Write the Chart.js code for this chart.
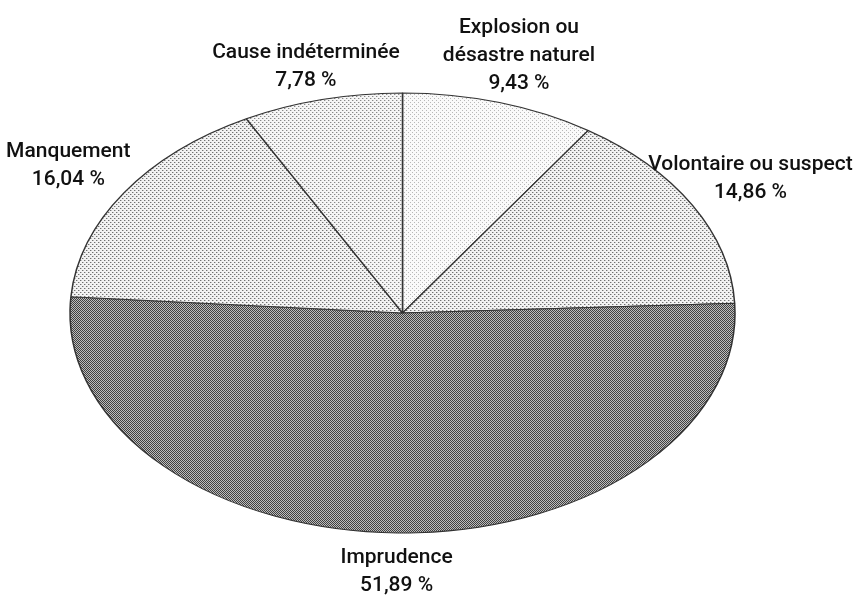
<!DOCTYPE html>
<html>
<head>
<meta charset="utf-8">
<script src="https://cdn.jsdelivr.net/npm/chart.js@4.4.1/dist/chart.umd.min.js"></script>
<style>
  body { margin: 0; background: #fff; }
  canvas { display: block; }
</style>
</head>
<body>
<canvas id="myChart" width="867" height="603"></canvas>
<script>
// slices, clockwise from 12 o'clock
const categories = [['Explosion ou', 'désastre naturel'], ['Volontaire ou suspect'], ['Imprudence'], ['Manquement'], ['Cause indéterminée']];
const values = [9.43, 14.86, 51.89, 16.04, 7.78];
const percentLabels = values.map(v => v.toFixed(2).replace('.', ',') + ' %');

const labelSpreadX = 1.2;
const labelSpreadY = 1.065;
const lineHeight = 28;

// small stipple tiles to imitate the printed screens
const makePattern = function(size, background, dots) {
    const tile = document.createElement('canvas');
    tile.width = size;
    tile.height = size;
    const t = tile.getContext('2d');
    t.fillStyle = background;
    t.fillRect(0, 0, size, size);
    dots.forEach(d => {
        t.fillStyle = d[2];
        t.fillRect(d[0], d[1], 1, 1);
    });
    return t.createPattern(tile, 'repeat');
};

const patterns = [
    makePattern(4, '#fafafa', [[0, 0, '#b8b8b8'], [2, 2, '#b8b8b8']]),
    makePattern(4, '#f2f2f2', [[0, 0, '#707070'], [2, 2, '#707070'], [1, 0, '#c0c0c0'], [3, 2, '#c0c0c0']]),
    makePattern(2, '#bcbcbc', [[0, 0, '#404040'], [1, 1, '#404040']]),
    makePattern(4, '#f2f2f2', [[0, 0, '#707070'], [2, 2, '#707070'], [1, 0, '#c0c0c0'], [3, 2, '#c0c0c0']]),
    makePattern(4, '#f6f6f6', [[0, 0, '#888888'], [2, 2, '#888888'], [1, 0, '#d0d0d0'], [3, 2, '#d0d0d0']])
];

// stretch the round pie into the ellipse filling the chart area, then write the labels
const ellipsePlugin = {
    id: 'ellipse',
    beforeDatasetsDraw(chart) {
        const area = chart.chartArea;
        const arc = chart.getDatasetMeta(0).data[0];
        const cx = (area.left + area.right) / 2;
        const cy = (area.top + area.bottom) / 2;
        const sx = (area.right - area.left) / 2 / arc.outerRadius;
        const sy = (area.bottom - area.top) / 2 / arc.outerRadius;
        const ctx = chart.ctx;
        ctx.save();
        ctx.translate(cx, cy);
        ctx.scale(sx, sy);
        ctx.translate(-arc.x, -arc.y);
        // keep the stipple square on screen
        const undo = new DOMMatrix().translate(arc.x, arc.y).scale(1 / sx, 1 / sy).translate(-cx, -cy);
        patterns.forEach(p => p.setTransform(undo));
    },
    afterDatasetsDraw(chart) {
        const ctx = chart.ctx;
        ctx.restore();
        const area = chart.chartArea;
        const cx = (area.left + area.right) / 2;
        const cy = (area.top + area.bottom) / 2;
        const rx = (area.right - area.left) / 2;
        const ry = (area.bottom - area.top) / 2;
        ctx.save();
        ctx.font = '500 21px Roboto, "Liberation Sans", Arial, sans-serif';
        ctx.fillStyle = '#111';
        ctx.textAlign = 'center';
        ctx.textBaseline = 'alphabetic';
        chart.getDatasetMeta(0).data.forEach((arc, i) => {
            const mid = (arc.startAngle + arc.endAngle) / 2;
            const x = cx + Math.cos(mid) * rx * labelSpreadX;
            const lines = categories[i].concat([percentLabels[i]]);
            let y;
            if (Math.sin(mid) < 0) {
                // above the middle: last line sits just over the rim
                y = cy + Math.sin(mid) * ry * labelSpreadY - (lines.length - 1) * lineHeight;
            } else {
                // below: first line hangs under the rim
                y = cy + Math.sin(mid) * ry + 30;
            }
            lines.forEach((line, j) => ctx.fillText(line, x, y + j * lineHeight));
        });
        ctx.restore();
    }
};

const ctx = document.getElementById('myChart').getContext('2d');
const myChart = new Chart(ctx, {
    type: 'pie',
    data: {
        labels: categories.map(c => c.join(' ')),
        datasets: [{
            data: values,
            backgroundColor: patterns,
            borderColor: '#333',
            borderWidth: 1,
            hoverOffset: 0
        }]
    },
    options: {
        responsive: false,
        animation: false,
        events: [],
        layout: {
            padding: { left: 70, right: 132, top: 93, bottom: 70 }
        },
        plugins: {
            legend: { display: false },
            tooltip: { enabled: false }
        }
    },
    plugins: [ellipsePlugin]
});
</script>
</body>
</html>
